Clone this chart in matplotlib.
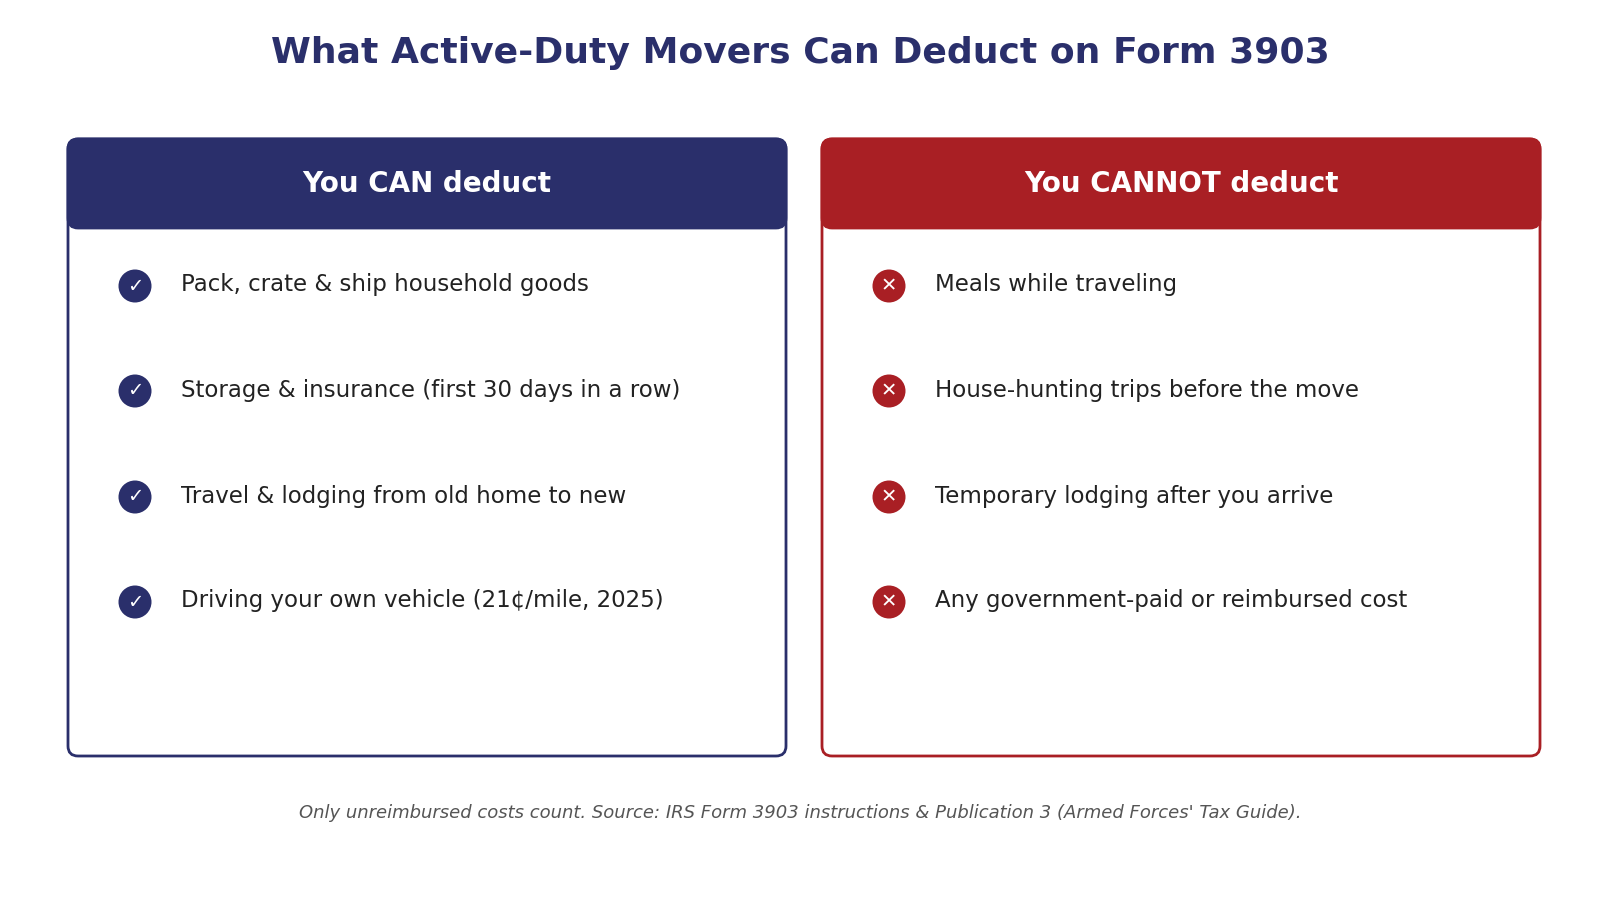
import matplotlib.pyplot as plt
from matplotlib.patches import FancyBboxPatch, Circle

title = "What Active-Duty Movers Can Deduct on Form 3903"
headers = ["You CAN deduct", "You CANNOT deduct"]
can_items = [
    "Pack, crate & ship household goods",
    "Storage & insurance (first 30 days in a row)",
    "Travel & lodging from old home to new",
    "Driving your own vehicle (21¢/mile, 2025)",
]
cannot_items = [
    "Meals while traveling",
    "House-hunting trips before the move",
    "Temporary lodging after you arrive",
    "Any government-paid or reimbursed cost",
]
footnote = ("Only unreimbursed costs count. Source: IRS Form 3903 instructions "
            "& Publication 3 (Armed Forces' Tax Guide).")

NAVY = "#2A2F6B"
RED = "#A91F24"

fig = plt.figure(figsize=(16, 9), dpi=100)
ax = fig.add_axes([0, 0, 1, 1])
ax.set_xlim(0, 1600)
ax.set_ylim(900, 0)
ax.axis("off")

ax.text(800, 53, title, ha="center", va="center", fontsize=26,
        fontweight="bold", color=NAVY)

panels = [(68, NAVY, can_items, "✓"), (822, RED, cannot_items, "✕")]
top, bottom, width = 139, 756, 718
row_y = [286, 391, 497, 602]

for (x0, col, items, mark), head in zip(panels, headers):
    ax.add_patch(FancyBboxPatch((x0, top), width, bottom - top,
                                boxstyle="round,pad=0,rounding_size=10",
                                fc="white", ec=col, lw=2))
    ax.add_patch(FancyBboxPatch((x0, top), width, 89,
                                boxstyle="round,pad=0,rounding_size=10",
                                fc=col, ec=col, lw=2))
    ax.text(x0 + width / 2, 184, head, ha="center", va="center",
            fontsize=20, fontweight="bold", color="white")
    for y, item in zip(row_y, items):
        ax.add_patch(Circle((x0 + 67, y), 16.5, fc=col, ec="none"))
        ax.text(x0 + 67, y, mark, ha="center", va="center", fontsize=14,
                color="white")
        ax.text(x0 + 113, y - 1, item, ha="left", va="center", fontsize=16.5,
                color="#222222")

ax.text(800, 813, footnote, ha="center", va="center", fontsize=13,
        style="italic", color="#555555")

fig.savefig("out.png", dpi=100)
